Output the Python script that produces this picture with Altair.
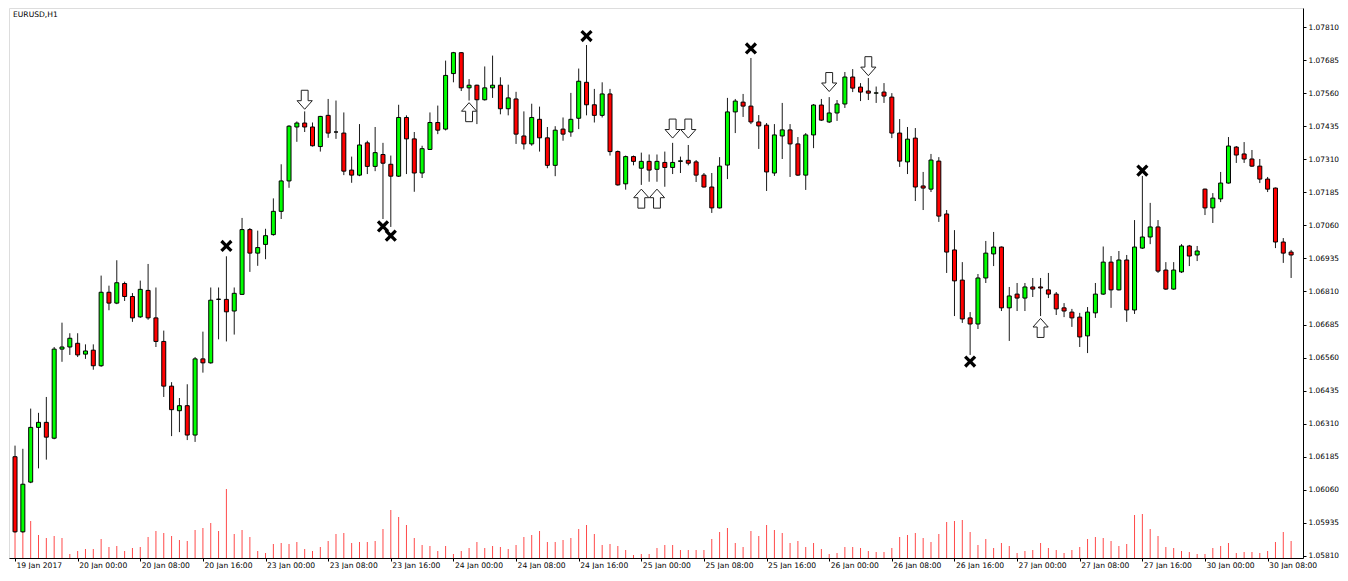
import altair as alt
import pandas as pd

opens = [1.06185, 1.05901, 1.06089, 1.06296, 1.06315, 1.06255, 1.06592, 1.06600, 1.06614, 1.06573,
         1.06588, 1.06529, 1.06807, 1.06766, 1.06840, 1.06791, 1.06714, 1.06814, 1.06710, 1.06621,
         1.06452, 1.06359, 1.06378, 1.06267, 1.06555, 1.06540, 1.06780, 1.06780, 1.06736, 1.06799,
         1.07044, 1.06955, 1.06988, 1.07025, 1.07113, 1.07228, 1.07432, 1.07447, 1.07432, 1.07358,
         1.07476, 1.07413, 1.07409, 1.07269, 1.07250, 1.07372, 1.07283, 1.07328, 1.07291, 1.07246,
         1.07468, 1.07387, 1.07258, 1.07347, 1.07449, 1.07424, 1.07634, 1.07713, 1.07580, 1.07590,
         1.07535, 1.07580, 1.07590, 1.07501, 1.07538, 1.07398, 1.07368, 1.07461, 1.07391, 1.07287,
         1.07424, 1.07413, 1.07465, 1.07601, 1.07516, 1.07476, 1.07557, 1.07339, 1.07217, 1.07320,
         1.07276, 1.07302, 1.07272, 1.07298, 1.07279, 1.07302, 1.07306, 1.07300, 1.07250, 1.07205,
         1.07126, 1.07288, 1.07489, 1.07526, 1.07511, 1.07451, 1.07439, 1.07258, 1.07398, 1.07421,
         1.07368, 1.07250, 1.07402, 1.07515, 1.07451, 1.07485, 1.07519, 1.07621, 1.07583, 1.07568,
         1.07560, 1.07564, 1.07545, 1.07409, 1.07300, 1.07390, 1.07209, 1.07197, 1.07303, 1.07103,
         1.06967, 1.06853, 1.06710, 1.06687, 1.06861, 1.06952, 1.06978, 1.06748, 1.06800, 1.06785,
         1.06827, 1.06827, 1.06816, 1.06800, 1.06748, 1.06732, 1.06713, 1.06642, 1.06729, 1.06800,
         1.06921, 1.06816, 1.06929, 1.06740, 1.06974, 1.07016, 1.07054, 1.06891, 1.06819, 1.06884,
         1.06982, 1.06948, 1.07197, 1.07126, 1.07160, 1.07220, 1.07356, 1.07330, 1.07311, 1.07284,
         1.07235, 1.07201, 1.06997, 1.06959]
highs = [1.06227, 1.06215, 1.06367, 1.06351, 1.06411, 1.06600, 1.06692, 1.06652, 1.06652, 1.06610,
         1.06610, 1.06870, 1.06832, 1.06928, 1.06847, 1.06804, 1.06851, 1.06914, 1.06825, 1.06662,
         1.06467, 1.06407, 1.06459, 1.06562, 1.06658, 1.06825, 1.06825, 1.06943, 1.06825, 1.07088,
         1.07050, 1.07040, 1.07047, 1.07162, 1.07291, 1.07439, 1.07453, 1.07491, 1.07449, 1.07474,
         1.07538, 1.07532, 1.07487, 1.07320, 1.07443, 1.07380, 1.07432, 1.07372, 1.07324, 1.07516,
         1.07476, 1.07413, 1.07361, 1.07487, 1.07513, 1.07683, 1.07716, 1.07715, 1.07613, 1.07592,
         1.07661, 1.07702, 1.07620, 1.07592, 1.07565, 1.07491, 1.07520, 1.07509, 1.07432, 1.07435,
         1.07468, 1.07561, 1.07653, 1.07742, 1.07576, 1.07601, 1.07576, 1.07343, 1.07324, 1.07324,
         1.07335, 1.07328, 1.07328, 1.07339, 1.07372, 1.07320, 1.07364, 1.07307, 1.07258, 1.07258,
         1.07318, 1.07542, 1.07538, 1.07557, 1.07693, 1.07477, 1.07447, 1.07443, 1.07523, 1.07443,
         1.07394, 1.07409, 1.07519, 1.07538, 1.07545, 1.07534, 1.07640, 1.07651, 1.07598, 1.07617,
         1.07585, 1.07598, 1.07560, 1.07462, 1.07432, 1.07428, 1.07262, 1.07330, 1.07318, 1.07118,
         1.07042, 1.06921, 1.06732, 1.06876, 1.07001, 1.07035, 1.06980, 1.06827, 1.06842, 1.06842,
         1.06861, 1.06861, 1.06880, 1.06808, 1.06766, 1.06744, 1.06729, 1.06751, 1.06842, 1.06980,
         1.06944, 1.06963, 1.06948, 1.07080, 1.07247, 1.07145, 1.07080, 1.06921, 1.06921, 1.06989,
         1.06986, 1.06982, 1.07199, 1.07182, 1.07262, 1.07394, 1.07360, 1.07375, 1.07345, 1.07311,
         1.07243, 1.07203, 1.07012, 1.06967]
lows = [1.05898, 1.05898, 1.06085, 1.06141, 1.06174, 1.06251, 1.06544, 1.06570, 1.06562, 1.06555,
        1.06514, 1.06525, 1.06739, 1.06762, 1.06774, 1.06695, 1.06710, 1.06703, 1.06600, 1.06411,
        1.06263, 1.06278, 1.06248, 1.06241, 1.06503, 1.06537, 1.06629, 1.06621, 1.06647, 1.06797,
        1.06884, 1.06907, 1.06932, 1.07021, 1.07084, 1.07202, 1.07376, 1.07413, 1.07358, 1.07339,
        1.07391, 1.07387, 1.07250, 1.07221, 1.07246, 1.07254, 1.07265, 1.07084, 1.07054, 1.07243,
        1.07254, 1.07187, 1.07239, 1.07345, 1.07405, 1.07419, 1.07601, 1.07568, 1.07532, 1.07443,
        1.07532, 1.07542, 1.07480, 1.07476, 1.07368, 1.07347, 1.07361, 1.07339, 1.07276, 1.07246,
        1.07380, 1.07395, 1.07424, 1.07476, 1.07449, 1.07468, 1.07324, 1.07210, 1.07195, 1.07287,
        1.07213, 1.07225, 1.07225, 1.07206, 1.07254, 1.07258, 1.07287, 1.07224, 1.07203, 1.07107,
        1.07124, 1.07235, 1.07409, 1.07470, 1.07443, 1.07349, 1.07190, 1.07247, 1.07311, 1.07243,
        1.07247, 1.07194, 1.07352, 1.07455, 1.07447, 1.07455, 1.07504, 1.07564, 1.07530, 1.07534,
        1.07523, 1.07523, 1.07390, 1.07281, 1.07254, 1.07152, 1.07118, 1.07186, 1.07073, 1.06880,
        1.06717, 1.06691, 1.06570, 1.06668, 1.06842, 1.06906, 1.06736, 1.06623, 1.06736, 1.06736,
        1.06789, 1.06717, 1.06785, 1.06721, 1.06713, 1.06676, 1.06600, 1.06577, 1.06710, 1.06797,
        1.06748, 1.06814, 1.06695, 1.06725, 1.06971, 1.06989, 1.06880, 1.06816, 1.06816, 1.06880,
        1.06906, 1.06925, 1.07099, 1.07069, 1.07148, 1.07218, 1.07296, 1.07296, 1.07281, 1.07220,
        1.07186, 1.06974, 1.06918, 1.06861]
closes = [1.05901, 1.06081, 1.06296, 1.06315, 1.06259, 1.06592, 1.06600, 1.06633, 1.06570, 1.06585,
          1.06529, 1.06807, 1.06766, 1.06843, 1.06791, 1.06710, 1.06818, 1.06710, 1.06621, 1.06452,
          1.06363, 1.06378, 1.06267, 1.06555, 1.06540, 1.06777, 1.06781, 1.06733, 1.06803, 1.07044,
          1.06955, 1.06976, 1.07021, 1.07113, 1.07228, 1.07435, 1.07447, 1.07432, 1.07361, 1.07472,
          1.07409, 1.07413, 1.07265, 1.07250, 1.07364, 1.07283, 1.07335, 1.07295, 1.07246, 1.07468,
          1.07387, 1.07258, 1.07350, 1.07449, 1.07420, 1.07627, 1.07713, 1.07580, 1.07590, 1.07535,
          1.07580, 1.07590, 1.07501, 1.07542, 1.07405, 1.07368, 1.07468, 1.07391, 1.07287, 1.07420,
          1.07405, 1.07461, 1.07605, 1.07516, 1.07476, 1.07557, 1.07339, 1.07213, 1.07320, 1.07302,
          1.07302, 1.07269, 1.07302, 1.07279, 1.07298, 1.07304, 1.07295, 1.07250, 1.07205, 1.07126,
          1.07284, 1.07489, 1.07530, 1.07511, 1.07451, 1.07436, 1.07262, 1.07402, 1.07421, 1.07368,
          1.07250, 1.07402, 1.07515, 1.07458, 1.07485, 1.07519, 1.07621, 1.07579, 1.07564, 1.07560,
          1.07561, 1.07549, 1.07409, 1.07303, 1.07386, 1.07205, 1.07201, 1.07307, 1.07095, 1.06959,
          1.06850, 1.06706, 1.06687, 1.06861, 1.06955, 1.06978, 1.06748, 1.06793, 1.06785, 1.06827,
          1.06819, 1.06823, 1.06800, 1.06744, 1.06736, 1.06710, 1.06638, 1.06732, 1.06800, 1.06921,
          1.06816, 1.06929, 1.06740, 1.06978, 1.07016, 1.07054, 1.06887, 1.06819, 1.06891, 1.06982,
          1.06944, 1.06963, 1.07126, 1.07163, 1.07220, 1.07360, 1.07326, 1.07311, 1.07284, 1.07235,
          1.07197, 1.06997, 1.06955, 1.06948]
volumes = [3500, 4800, 3700, 2300, 2000, 2200, 2000, 400, 700, 900,
           900, 1900, 1100, 1200, 700, 1000, 1100, 2100, 2700, 2500,
           2200, 1800, 1700, 2800, 3000, 3500, 2700, 6900, 2400, 2800,
           2100, 700, 500, 1400, 1500, 1400, 1600, 900, 700, 1100,
           1700, 2400, 2500, 1500, 1600, 1600, 1700, 2900, 4800, 4100,
           3300, 2000, 1300, 1200, 700, 1200, 400, 700, 1000, 1600,
           1000, 1200, 1100, 900, 1300, 2100, 2300, 2700, 1600, 1600,
           1800, 2000, 2900, 3300, 2400, 1300, 1400, 1200, 800, 300,
           400, 400, 1000, 1300, 1300, 800, 800, 800, 800, 1900,
           2600, 3000, 1500, 1100, 2700, 2200, 3300, 2800, 2500, 1500,
           1700, 1100, 1500, 900, 400, 500, 1100, 1100, 1000, 700,
           600, 600, 1000, 2100, 2300, 2500, 2000, 1600, 2400, 3600,
           3700, 3800, 2600, 1300, 1900, 1000, 1500, 1200, 500, 700,
           800, 1500, 1000, 800, 500, 800, 1100, 1900, 2100, 2000,
           1700, 1200, 1400, 4300, 4400, 2900, 2200, 1100, 1000, 700,
           600, 400, 400, 1000, 1200, 1500, 500, 600, 600, 500,
           700, 1600, 2600, 1700]

tick_index = [0, 8, 16, 24, 32, 40, 48, 56, 64, 72, 80, 88, 96, 104, 112, 120, 128, 136, 144, 152, 160]
tick_labels = ["19 Jan 2017", "20 Jan 00:00", "20 Jan 08:00", "20 Jan 16:00", "23 Jan 00:00",
               "23 Jan 08:00", "23 Jan 16:00", "24 Jan 00:00", "24 Jan 08:00", "24 Jan 16:00",
               "25 Jan 00:00", "25 Jan 08:00", "25 Jan 16:00", "26 Jan 00:00", "26 Jan 08:00",
               "26 Jan 16:00", "27 Jan 00:00", "27 Jan 08:00", "27 Jan 16:00", "30 Jan 00:00",
               "30 Jan 08:00"]
price_ticks = [1.05810, 1.05935, 1.06060, 1.06185, 1.06310, 1.06435, 1.06560, 1.06685, 1.06810,
               1.06935, 1.07060, 1.07185, 1.07310, 1.07435, 1.07560, 1.07685, 1.07810]

cross_index = [27, 47, 48, 73, 94, 122, 144]
cross_price = [1.06982, 1.07056, 1.07021, 1.07776, 1.07729, 1.06545, 1.07267]
down_index = [37, 84, 86, 104, 109]
down_price = [1.07535, 1.07426, 1.07426, 1.07602, 1.07662]
up_index = [58, 80, 82, 131]
up_price = [1.07488, 1.07161, 1.07161, 1.06672]

n = len(opens)
df = pd.DataFrame({
    "idx": list(range(n)),
    "open": opens, "high": highs, "low": lows, "close": closes,
    "volume": volumes[:n],
})
df["dir"] = ["up" if c >= o else "down" for o, c in zip(opens, closes)]

cross_df = pd.DataFrame({"idx": cross_index, "price": cross_price})
down_df = pd.DataFrame({"idx": down_index, "price": down_price})
up_df = pd.DataFrame({"idx": up_index, "price": up_price})

FONT = "DejaVu Sans"
label_js = "[" + ",".join("'" + t + "'" for t in tick_labels) + "][round(datum.value/8)]"

xscale = alt.Scale(domain=[-0.13, 163.88], nice=False, zero=False)
yscale = alt.Scale(domain=[1.05802, 1.07882], nice=False, zero=False)

x_axis = alt.Axis(values=tick_index, labelExpr=label_js, title=None, grid=False,
                  tickSize=3, labelAlign="left", labelPadding=0, labelFlush=False,
                  labelOverlap=False, labelFont=FONT, labelFontSize=7.6, labelColor="black",
                  domainColor="black", tickColor="black", labelBaseline="top", labelOffset=1)
y_axis = alt.Axis(values=price_ticks, format=".5f", orient="right", title=None, grid=False,
                  tickSize=3, labelPadding=2, labelFont=FONT, labelFontSize=7.4,
                  labelColor="black", domainColor="black", tickColor="black",
                  labelFlush=False, labelOverlap=False)

X = alt.X("idx:Q", scale=xscale, axis=x_axis)


def Yp(field):
    return alt.Y(field, scale=yscale, axis=y_axis)


vol = alt.Chart(df).mark_rule(color="#ff4a4a", strokeWidth=1).encode(
    x=X,
    y=alt.Y("volume:Q", scale=alt.Scale(domain=[0, 55000], nice=False, zero=True), axis=None),
    y2=alt.datum(0),
)

wick = alt.Chart(df).mark_rule(color="#1a1a1a", strokeWidth=1).encode(
    x=X, y=Yp("low:Q"), y2="high:Q",
)
body = alt.Chart(df).mark_bar(size=4, stroke="black", strokeWidth=1).encode(
    x=X, y=Yp("open:Q"), y2="close:Q",
    color=alt.Color("dir:N", scale=alt.Scale(domain=["up", "down"], range=["#00ff00", "#ff0000"]),
                    legend=None),
)

xpath = ("M -1,-0.62 L -0.62,-1 L 0,-0.38 L 0.62,-1 L 1,-0.62 L 0.38,0 L 1,0.62 L 0.62,1 "
         "L 0,0.38 L -0.62,1 L -1,0.62 L -0.38,0 Z")
down_path = "M -0.36,-1 L 0.36,-1 L 0.36,0.1 L 0.8,0.1 L 0,1 L -0.8,0.1 L -0.36,0.1 Z"
up_path = "M -0.36,1 L 0.36,1 L 0.36,-0.1 L 0.8,-0.1 L 0,-1 L -0.8,-0.1 L -0.36,-0.1 Z"

crosses = alt.Chart(cross_df).mark_point(shape=xpath, filled=True, color="black", size=150,
                                         opacity=1).encode(x=X, y=Yp("price:Q"))
downs = alt.Chart(down_df).mark_point(shape=down_path, filled=True, fill="white", stroke="#202020",
                                      strokeWidth=1, size=361, opacity=1).encode(x=X, y=Yp("price:Q"))
ups = alt.Chart(up_df).mark_point(shape=up_path, filled=True, fill="white", stroke="#202020",
                                  strokeWidth=1, size=361, opacity=1).encode(x=X, y=Yp("price:Q"))

title = alt.Chart(pd.DataFrame({"t": ["EURUSD,H1"]})).mark_text(
    align="left", baseline="middle", font=FONT, fontSize=7.6, color="black").encode(
    x=alt.value(4), y=alt.value(7), text="t:N")

price_layer = alt.layer(wick, body, crosses, downs, ups, title)

chart = alt.layer(vol, price_layer).resolve_scale(y="independent").properties(
    width=1294, height=550,
    padding={"left": 1, "top": 0, "right": 0, "bottom": 0},
).configure_view(stroke="black", strokeWidth=1).configure(background="white")

chart.save("out.html", embed_options={"renderer": "svg", "actions": False})
